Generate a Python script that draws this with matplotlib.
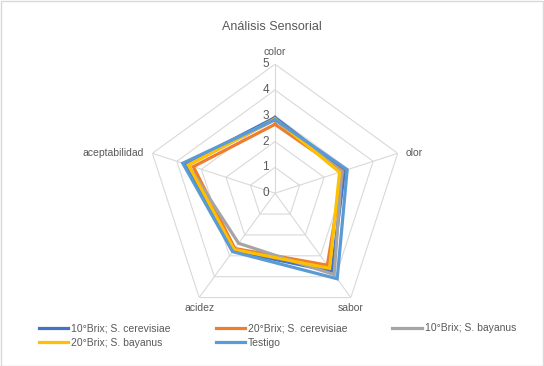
import matplotlib.pyplot as plt
import matplotlib.transforms as mtransforms
import numpy as np

plt.rcParams['font.family'] = ['Liberation Sans', 'DejaVu Sans']

categories = ['color', 'olor', 'sabor', 'acidez', 'aceptabilidad']
series_names = ['10°Brix; S. cerevisiae', '20°Brix; S. cerevisiae', '10°Brix; S. bayanus',
                '20°Brix; S. bayanus', 'Testigo']
cer10 = [2.93, 2.83, 3.75, 2.75, 3.65]
cer20 = [2.67, 2.76, 3.45, 2.65, 3.33]
bay10 = [2.85, 2.72, 3.90, 2.40, 3.55]
bay20 = [2.88, 2.63, 3.60, 2.70, 3.53]
testigo = [2.85, 2.94, 4.10, 2.80, 3.76]
series = [cer10, cer20, bay10, bay20, testigo]
colors = ['#4472C4', '#ED7D31', '#A5A5A5', '#FFC000', '#5B9BD5']
ring_vals = [0, 1, 2, 3, 4, 5]

TXT = '#595959'
GRID = '#D9D9D9'

fig = plt.figure(figsize=(5.44, 3.66), dpi=100)
ax = fig.add_axes([0.2684, 0.1197, 0.4743, 0.7049], projection='polar')
ax.set_theta_offset(np.pi / 2)
ax.set_theta_direction(-1)
ax.set_ylim(0, 5)
ax.grid(False)
ax.spines['polar'].set_visible(False)
ax.set_xticks([])
ax.set_yticks([])

n = len(categories)
angles = np.linspace(0, 2 * np.pi, n, endpoint=False)
closed = np.append(angles, angles[0])

# pentagon grid
for r in ring_vals[1:]:
    ax.plot(closed, [r] * (n + 1), color=GRID, lw=0.8, zorder=1)
for a in angles:
    ax.plot([a, a], [0, 5], color=GRID, lw=0.8, zorder=1)

# ring value labels
lab_tr = mtransforms.offset_copy(ax.transData, fig=fig, x=-6, y=0, units='dots')
for r in ring_vals:
    ax.text(0, r, str(r), transform=lab_tr, ha='right', va='center', fontsize=8.5, color=TXT)

# category labels
offsets = [(0, 12, 'center', 'center'), (8, 0, 'left', 'center'),
           (0, -5, 'center', 'top'), (0, -5, 'center', 'top'), (-8, 0, 'right', 'center')]
for a, lab, (dx, dy, ha, va) in zip(angles, categories, offsets):
    ax.annotate(lab, xy=(a, 5), xytext=(dx, dy), textcoords='offset pixels',
                ha=ha, va=va, fontsize=7.5, color=TXT)

for vals, name, c in zip(series, series_names, colors):
    ax.plot(closed, vals + vals[:1], color=c, lw=2.3, label=name, zorder=3,
            solid_joinstyle='miter')

fig.text(0.5, 1 - 27 / 366, 'Análisis Sensorial', ha='center', va='center', fontsize=9, color=TXT)

handles, labels = ax.get_legend_handles_labels()
order = [0, 3, 1, 4, 2]
fig.legend([handles[i] for i in order], [labels[i] for i in order],
           loc='upper left', bbox_to_anchor=(35 / 544, 1 - 319 / 366), ncol=3,
           frameon=False, fontsize=7.5, handlelength=2.8, handletextpad=0.3,
           columnspacing=4.3, labelspacing=0.45, labelcolor=TXT, borderaxespad=0)

fig.patches.append(plt.Rectangle((0.001, 0.001), 0.997, 0.997, transform=fig.transFigure,
                                 fill=False, edgecolor=GRID, lw=1))

fig.savefig('out.png', dpi=100)
